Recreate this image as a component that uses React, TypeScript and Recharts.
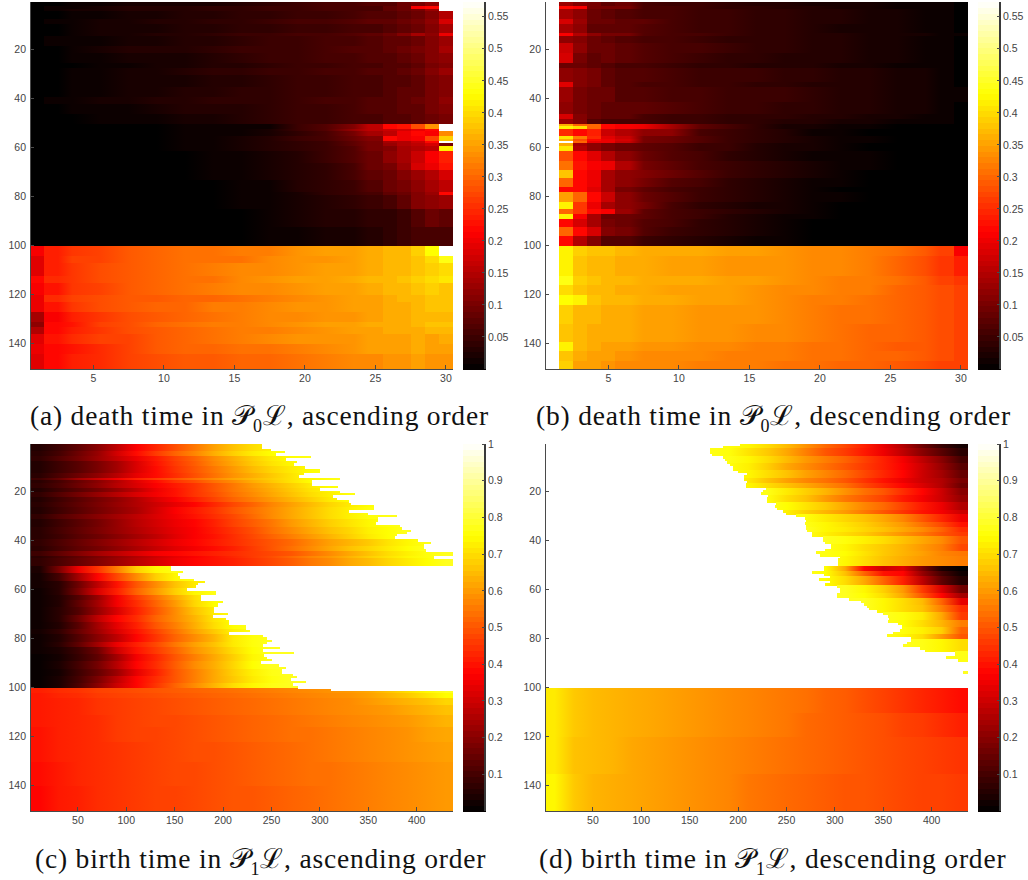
import React from 'react';
import { BarChart, Bar, Cell, XAxis, YAxis } from 'recharts';

// values are stored in hundredths, null = NaN (drawn white)
const rowTicks = [20, 40, 60, 80, 100, 120, 140];
const deathTicks = [5, 10, 15, 20, 25, 30];
const birthTicks = [50, 100, 150, 200, 250, 300, 350, 400];
const deathBarTicks = [0.05, 0.1, 0.15, 0.2, 0.25, 0.3, 0.35, 0.4, 0.45, 0.5, 0.55];
const birthBarTicks = [0.1, 0.2, 0.3, 0.4, 0.5, 0.6, 0.7, 0.8, 0.9, 1];
const colorLevels = [0,1,2,3,4,5,6,7,8,9,10,11,12,13,14,15,16,17,18,19,20,21,22,23,24,25,26,27,28,29,30,31,32,33,34,35,36,37,38,39,40,41,42,43,44,45,46,47,48,49,50,51,52,53,54,55,56,57,58,59,60,61,62,63];

const deathMax = 0.573;
const birthMax = 1;

const aColWidths = [1,1,2,2,2,2,2,2,2,2,2,2,2,1,1,1,1,1,1];
const aRowSpans = [2,1,1,3,2,4,1,4,3,4,2,3,5,4,3,4,4, 2,1,2,2,1,1,2,5,3,4,5,1,6,7,8, 4,3,5,3,5,3,4,4,2,3,4,4,6];
const aValues: (number | null)[][] = [
  [0,0,1,1,2,2,2,2,3,4,5,6,6,7,7,9,10,12,null],
  [0,1,1,2,3,3,3,4,4,5,5,6,6,6,8,9,21,22,null],
  [0,1,2,2,3,3,3,4,4,5,5,6,6,6,8,9,10,13,null],
  [0,0,1,1,2,2,3,3,4,4,5,5,6,7,7,8,9,11,15],
  [0,1,1,2,2,3,3,4,4,5,6,6,7,8,8,9,10,12,18],
  [0,0,1,2,2,2,3,3,4,4,5,5,6,6,7,8,9,11,14],
  [0,0,1,2,2,3,3,4,5,5,6,6,7,8,9,11,14,12,20],
  [0,1,1,1,2,2,3,3,4,5,5,6,6,7,8,8,9,11,13],
  [0,0,1,2,3,3,3,4,5,5,5,6,7,7,8,9,10,11,14],
  [0,0,1,1,2,2,2,3,4,5,5,6,6,7,7,8,9,11,12],
  [0,0,0,1,1,2,2,3,3,4,5,5,6,6,7,7,8,10,11],
  [0,0,1,1,2,2,3,4,4,5,5,6,6,7,7,8,9,11,13],
  [0,0,1,1,2,2,2,3,3,4,5,5,6,6,7,7,8,10,11],
  [0,0,1,1,2,2,3,3,4,4,5,5,6,6,7,8,8,10,11],
  [0,1,1,2,2,3,3,4,4,4,5,6,6,7,7,8,9,10,12],
  [0,0,1,1,1,2,3,3,3,4,5,5,6,7,7,8,8,10,11],
  [0,0,0,1,1,1,2,2,3,4,5,5,6,6,7,7,8,9,10],
  [0,0,0,0,0,0,1,1,1,1,5,7,11,16,22,23,28,34,null],
  [0,0,0,0,0,0,1,1,1,2,5,7,13,16,17,18,20,22,null],
  [0,0,0,0,0,0,1,1,1,2,4,6,10,14,16,20,22,21,33],
  [0,0,0,0,0,0,1,1,2,3,5,6,9,11,22,20,21,27,39],
  [0,0,0,0,0,0,1,1,2,3,4,5,8,10,14,15,17,22,null],
  [0,0,0,0,0,0,1,1,2,3,4,5,8,10,13,15,16,18,10],
  [0,0,0,0,0,0,1,1,2,3,4,5,7,10,11,14,15,16,42],
  [0,0,0,0,0,0,0,1,1,2,3,5,7,9,12,14,17,21,24],
  [0,0,0,0,0,0,0,1,1,2,3,4,6,9,10,13,18,20,23],
  [0,0,0,0,0,0,0,1,1,2,3,4,6,8,9,11,13,15,18],
  [0,0,0,0,0,0,0,0,1,1,3,4,5,7,9,10,12,14,16],
  [0,0,0,0,0,0,0,0,1,1,2,4,5,6,8,9,11,13,22],
  [0,0,0,0,0,0,0,0,1,1,2,3,4,5,6,8,11,12,13],
  [0,0,0,0,0,0,0,0,0,1,2,3,3,4,4,5,7,9,8],
  [0,0,0,0,0,0,0,0,0,1,1,2,2,3,4,5,6,6,6],
  [21,24,26,27,29,30,31,31,32,32,34,35,35,36,37,37,39,43,null],
  [19,24,27,27,29,30,31,31,31,33,34,34,35,36,37,37,38,40,44],
  [19,24,26,28,29,30,31,32,33,33,34,35,35,36,37,37,38,39,40],
  [22,25,26,28,29,30,31,31,33,34,35,35,36,37,37,38,39,40,41],
  [21,23,26,27,29,30,31,32,33,33,34,35,35,36,37,37,38,39,38],
  [20,25,27,28,29,29,30,30,31,32,33,34,35,35,36,37,37,38,38],
  [20,23,26,28,29,30,30,32,32,33,34,34,35,35,36,36,37,38,38],
  [14,21,24,26,28,29,30,31,32,33,33,34,34,35,36,36,37,37,37],
  [12,22,23,27,28,30,31,32,32,33,34,35,35,36,36,36,37,38,38],
  [15,22,24,26,28,29,30,31,32,32,33,34,35,35,36,36,36,37,37],
  [19,23,25,27,27,29,30,31,32,33,34,34,34,35,35,35,36,35,36],
  [20,22,23,25,27,29,30,30,31,31,32,33,34,35,35,35,36,35,35],
  [19,22,24,25,27,28,29,29,30,30,31,32,33,33,34,34,35,34,34],
];

const bColWidths = [1,1,1,1,1,1,2,2,2,2,2,2,2,2,2,2,2,1,1];
const bRowSpans = [2,1,4,2,4,1,3,4,4,2,6,2,6,5,2,2, 1,1,3,1,1,1,1,2,4,4,3,4,2,4,3,2,2,3,4,4, 4,8,4,4,4,8,7,4,4,3];
const bValues: (number | null)[][] = [
  [null,13,11,10,8,9,6,5,5,4,3,3,2,2,2,1,1,1,0],
  [null,22,21,10,10,10,6,6,5,4,4,3,3,2,2,1,1,1,0],
  [null,14,12,9,8,7,6,6,5,5,4,4,3,3,2,2,1,1,0],
  [null,18,13,9,9,8,8,6,5,5,4,4,3,3,2,2,1,1,0],
  [null,14,12,8,8,8,7,6,5,5,4,4,3,2,2,2,1,1,0],
  [null,21,15,12,10,10,7,6,6,5,4,4,3,3,2,2,2,1,1],
  [null,12,11,9,8,7,6,6,5,4,4,4,3,3,2,2,1,1,0],
  [null,17,12,9,9,8,7,6,6,5,4,4,3,3,2,2,1,1,0],
  [null,18,10,8,9,8,7,6,5,4,4,3,3,3,2,2,1,1,0],
  [null,9,9,8,7,6,6,5,4,4,3,3,3,2,2,1,1,1,0],
  [null,12,11,10,8,7,7,6,5,5,5,4,4,3,3,2,2,1,0],
  [null,19,11,10,8,7,6,6,5,5,4,4,3,3,3,2,2,1,0],
  [null,13,10,9,9,7,7,6,6,5,5,5,4,3,3,2,2,1,1],
  [null,12,10,9,8,8,8,7,6,5,5,4,4,3,3,2,2,1,0],
  [null,18,11,9,8,8,6,5,5,4,4,4,3,3,2,2,1,1,0],
  [null,13,11,7,6,6,6,5,5,4,4,3,3,2,2,1,1,1,0],
  [null,36,30,30,22,21,20,14,8,6,4,2,2,1,1,0,0,0,0],
  [null,42,40,30,22,21,20,14,8,6,4,2,2,1,1,0,0,0,0],
  [null,25,22,24,17,15,12,12,6,5,4,3,1,1,0,0,0,0,0],
  [null,41,32,25,19,17,10,9,7,5,4,3,2,1,1,0,0,0,0],
  [null,36,28,22,20,18,10,9,7,5,4,3,2,1,1,0,0,0,0],
  [null,null,30,20,20,17,10,9,7,5,4,3,2,1,1,0,0,0,0],
  [null,36,14,12,10,9,8,7,5,5,3,2,2,1,0,0,0,0,0],
  [null,41,15,12,10,9,8,7,5,5,3,2,2,1,0,0,0,0,0],
  [null,28,22,19,15,12,9,7,6,4,3,2,1,1,1,0,0,0,0],
  [null,31,23,21,20,15,10,8,6,5,4,3,2,1,1,0,0,0,0],
  [null,38,22,20,14,12,11,9,7,5,4,3,2,1,0,0,0,0,0],
  [null,30,22,20,14,12,10,7,6,4,3,2,1,1,0,0,0,0,0],
  [null,22,22,19,14,10,8,6,5,4,3,2,1,0,0,0,0,0,0],
  [null,35,30,22,17,12,9,7,5,4,3,2,1,1,0,0,0,0,0],
  [null,42,26,20,14,12,10,6,4,3,2,2,1,0,0,0,0,0,0],
  [null,30,26,22,21,13,8,6,5,4,3,2,1,0,0,0,0,0,0],
  [null,42,21,14,9,9,8,6,5,3,2,1,1,0,0,0,0,0,0],
  [null,22,18,14,10,9,7,6,4,3,2,1,0,0,0,0,0,0,0],
  [null,30,22,18,11,10,7,5,4,3,2,1,0,0,0,0,0,0,0],
  [null,22,15,11,7,7,5,4,3,2,1,1,0,0,0,0,0,0,0],
  [null,42,39,38,38,37,36,36,36,35,35,34,33,33,32,31,29,27,21],
  [null,42,38,37,37,36,36,35,35,34,34,34,33,33,32,30,28,26,24],
  [null,44,39,38,37,37,36,36,36,35,35,34,33,32,32,31,29,27,26],
  [null,40,38,37,37,36,36,35,35,35,34,33,33,32,32,30,29,28,27],
  [null,43,42,38,37,37,36,36,35,35,34,33,32,32,31,30,29,28,27],
  [null,39,37,37,36,36,35,35,34,34,34,33,32,31,31,30,29,28,27],
  [null,38,37,36,36,36,35,35,34,34,33,33,32,31,30,30,29,28,27],
  [null,42,37,36,35,35,34,34,33,33,32,32,31,31,30,29,29,28,27],
  [null,38,36,35,35,34,33,33,33,32,32,32,31,31,30,30,29,28,27],
  [null,39,35,35,34,33,33,33,32,32,32,31,31,30,30,29,28,27,27],
];

// birth panels: a value is read every 20 columns, one edge per row for the white part
const cEdges = [240,240,250,264,255,291,265,276,273,285,300,300,284,278,321,292,292,319,300,321,336,314,318,330,332,356,356,330,350,380,360,360,358,383,385,394,390,380,378,401,415,408,408,410,437,437,418,437,437,437,
  146,146,159,153,155,170,181,174,172,163,193,193,177,177,200,195,195,191,191,205,190,203,206,206,224,224,228,206,241,245,251,245,241,259,241,273,242,245,251,239,258,265,261,261,272,276,270,286,272,277,311];
const cRowSpans = [3,2,2,2,3,2,1,1,2,2,2,2,2,3,2,3,3,2,3,2,2,1,3, 3,3,3,3,2,3,3,3,3,2,3,2,3,3,3,3,3,2, 2,2,3,4,5,6,8,10,10];
const cValues = [
  [5,9,14,20,28,37,43,49,55,61,66,70,73,76],
  [6,10,16,22,31,39,46,52,57,63,68,72,75,77],
  [7,12,17,23,29,35,41,47,52,58,63,68,72,75,77],
  [5,9,13,18,24,32,40,46,51,57,62,67,71,74,77],
  [5,9,13,18,24,32,39,45,50,55,60,65,69,72,75,77],
  [6,11,16,21,27,34,39,44,49,54,59,63,67,71,75,77],
  [9,15,24,30,36,42,46,50,54,58,62,65,68,71,74,76,78],
  [6,10,15,20,26,33,39,45,49,54,58,63,67,71,75,77],
  [7,11,16,21,27,32,37,41,45,50,55,60,64,68,72,75,78],
  [5,9,13,17,22,28,35,40,45,50,55,59,63,67,71,74,77],
  [7,12,17,22,27,32,36,40,45,49,54,58,62,66,70,73,76,78],
  [5,9,13,17,21,26,32,37,42,47,52,56,60,64,68,72,75,78],
  [6,10,14,18,22,26,30,34,38,43,48,52,57,61,65,69,72,75,78],
  [5,9,13,17,21,25,31,37,41,45,50,54,58,62,66,70,73,76,78],
  [7,12,16,20,24,28,32,36,40,44,48,53,58,62,66,70,73,76,77,78],
  [5,9,13,17,22,27,31,35,38,42,47,51,55,60,64,68,71,74,76,78],
  [6,10,14,18,22,26,30,34,37,41,45,49,54,58,62,66,69,73,75,78],
  [6,9,13,16,20,24,28,33,37,40,44,48,52,56,60,64,68,72,75,78],
  [7,11,15,19,23,27,31,35,38,41,44,47,50,53,57,61,64,67,71,74,77],
  [6,10,14,17,21,25,29,33,36,39,42,46,50,54,58,62,66,69,72,75,78],
  [9,14,19,24,28,32,36,38,40,42,44,46,48,50,54,58,62,66,70,73,76,78],
  [6,10,14,18,22,26,30,34,37,40,43,46,49,53,57,60,64,68,71,74,76,78],
  [7,11,15,19,23,27,31,35,38,40,42,45,48,51,55,58,62,65,69,72,75,78],
  [4,18,35,45,56,68,74,77],
  [3,10,24,38,48,58,68,74,77],
  [3,6,16,28,40,50,58,66,72,76,78],
  [2,6,18,32,42,52,60,68,74,77],
  [2,5,12,22,36,46,54,62,70,75,77],
  [2,5,14,24,36,44,52,60,69,75,78],
  [2,6,12,22,32,42,50,58,66,72,76,78],
  [2,6,16,28,38,44,52,58,64,71,75,78],
  [2,5,13,24,34,42,50,56,63,70,75,78],
  [3,7,15,23,32,40,47,54,61,67,73,77],
  [2,5,12,20,28,38,45,52,58,64,72,76,78],
  [2,6,14,24,35,42,48,55,61,66,72,76,78],
  [2,4,9,16,30,40,46,52,59,64,70,75,78],
  [1,3,8,14,24,36,43,50,56,62,68,74,77,78],
  [1,4,10,17,27,38,44,51,58,63,69,75,78],
  [1,3,9,15,23,34,42,50,56,62,68,73,77,78],
  [1,4,10,18,28,38,44,50,56,62,67,72,76,78],
  [1,4,11,20,30,38,45,52,58,64,70,74,77,78],
  [42,44,45,47,48,49,50,51,52,53,54,55,56,57,58,59,60,62,66,70,74,78],
  [41,43,44,46,47,48,49,50,51,52,53,54,55,56,57,58,59,61,64,67,71,75],
  [41,42,43,45,46,47,48,49,50,51,52,53,54,55,56,57,58,60,62,64,66,69],
  [41,42,43,45,46,47,48,49,50,51,52,53,54,55,56,57,58,59,60,62,64,66],
  [41,42,43,44,46,47,48,48,49,50,51,52,53,54,55,56,57,58,59,60,62,64],
  [40,42,43,44,46,47,47,48,49,50,51,52,53,54,54,55,56,57,58,59,61,62],
  [40,42,43,44,45,46,47,48,49,49,50,51,52,53,54,55,56,57,58,59,60,61],
  [39,41,43,44,45,46,47,48,48,49,50,51,52,53,54,54,55,56,57,58,59,60],
  [38,41,42,44,45,46,47,47,48,49,50,50,51,52,53,54,55,56,57,58,59,60],
];

const dStarts = [202,184,171,171,173,184,186,189,192,195,195,200,209,206,206,209,208,208,229,226,224,231,230,230,239,238,240,246,249,260,269,270,269,270,270,271,276,276,288,288,290,296,296,290,280,285,305,303,303,303,
  289,289,276,289,295,284,295,290,302,305,305,302,302,315,327,330,333,335,343,350,355,356,355,365,369,369,367,360,354,379,379,375,370,388,393,424,424,415,427,437,437,437,437,432,437,437,437,437,437,437];
const dRowSpans = [2,3,3,3,3,2,2,3,3,3,2,3,2,2,2,3,3,2,4, 2,2,4,3,2,3,3,3,3,3,2,5,4,11, 10,10,15,15];
// right aligned: the last number belongs to the last columns of the row
const dValues = [
  [78,76,74,70,65,59,53,48,42,34,26,16,8,3],
  [77,76,71,67,62,56,50,46,41,35,28,20,13,6],
  [77,74,70,65,60,56,52,47,42,36,28,20,10],
  [76,73,68,62,58,54,50,46,42,37,30,22,13],
  [77,74,70,66,61,57,53,48,43,38,30,24,15],
  [76,72,66,61,57,54,50,45,40,35,30,26,18],
  [77,74,70,66,62,58,54,48,43,38,32,26,16],
  [77,72,68,64,59,54,50,44,38,30,20],
  [76,70,66,60,55,51,47,41,36,30,22],
  [78,75,71,67,62,57,53,47,41,35,26],
  [77,73,68,64,60,55,50,45,40,36,30],
  [76,72,69,66,62,57,50,43,35],
  [77,74,71,68,64,60,54,48,40],
  [78,74,72,69,66,62,58,52,44],
  [77,73,70,67,63,59,55,50,46],
  [78,76,73,70,66,62,58,50],
  [77,74,70,67,64,60,56,48],
  [77,75,71,67,64,61,57,55],
  [78,74,70,66,63,60,58,56],
  [78,75,62,38,30,33,18,4,0],
  [78,75,66,52,40,38,22,10,2],
  [78,75,70,62,52,42,28,14,5],
  [78,74,68,60,46,32,16],
  [78,75,70,62,50,38,24],
  [78,74,70,65,52,34],
  [78,74,70,66,56,44],
  [78,76,72,62,46],
  [78,75,70,64,56],
  [78,76,73,68,52],
  [78,74,70,60,50],
  [78,77,74,70],
  [78,77],
  [78],
  [72,67,65,64,63,62,61,60,59,58,57,56,55,54,52,51,49,47,45,43,41,39],
  [72,67,65,64,63,62,61,60,59,58,57,56,55,53,52,51,50,49,47,46,44,42],
  [72,66,65,64,62,61,60,59,58,57,56,55,54,53,52,51,50,49,48,47,46,45],
  [74,67,64,63,62,61,60,59,58,57,55,54,53,52,51,50,50,49,48,47,47,46],
];

const WHITE = '#ffffff';
const AXIS = '#4a4a4a';
const TEXT = '#444444';
const tickFont = { fontSize: 10.5, fill: TEXT, fontFamily: '"Liberation Sans", sans-serif' };
const BLOCK = 20;
const BLOCKS = 22;
const birthWidth = 437;
const deathWidth = 30;
const plotLeft = 30;
const plotRight = 453;

const clamp = (v: number) => Math.max(0, Math.min(1, v));
const hot = (t: number) => {
  const q = clamp(t);
  const r = clamp(q / 0.375);
  const g = clamp((q - 0.375) / 0.375);
  const b = clamp((q - 0.75) / 0.25);
  return `rgb(${Math.round(r * 255)},${Math.round(g * 255)},${Math.round(b * 255)})`;
};
const colorOf = (v: number | null, max: number) => (v === null ? WHITE : hot(v / 100 / max));

type Row = Record<string, number | string>;

const deathRows = (prefix: string, spans: number[]) => {
  const rows: Row[] = [];
  spans.forEach((span, b) => {
    for (let k = 0; k < span; k++) {
      rows.push({ row: rows.length + 1, s0: deathWidth, f0: `url(#${prefix}${b})` });
    }
  });
  return rows;
};

const ascendingRows = () => {
  const rows: Row[] = [];
  cRowSpans.forEach((span, b) => {
    for (let k = 0; k < span; k++) {
      const edge = rows.length < cEdges.length ? cEdges[rows.length] : birthWidth;
      rows.push({ row: rows.length + 1, s0: edge, f0: `url(#c${b})`, s1: birthWidth - edge, f1: WHITE });
    }
  });
  return rows;
};

const descendingRows = () => {
  const rows: Row[] = [];
  dRowSpans.forEach((span, b) => {
    for (let k = 0; k < span; k++) {
      const start = rows.length < dStarts.length ? dStarts[rows.length] : 0;
      rows.push({ row: rows.length + 1, s0: start, f0: WHITE, s1: birthWidth - start, f1: `url(#d${b})` });
    }
  });
  return rows;
};

const aRows = deathRows('a', aRowSpans);
const bRows = deathRows('b', bRowSpans);
const cRows = ascendingRows();
const dRows = descendingRows();

const bandGradient = (id: string, stops: { at: number; color: string }[]) => (
  <linearGradient key={id} id={id} gradientUnits="userSpaceOnUse" x1={plotLeft} x2={plotRight} y1={0} y2={0}>
    {stops.map((s, i) => (
      <stop key={i} offset={Math.min(1, s.at)} stopColor={s.color} />
    ))}
  </linearGradient>
);

// single columns keep their hard edges, wider groups get one stop in the middle
const deathGradients = (prefix: string, values: (number | null)[][], widths: number[]) =>
  values.map((vals, b) => {
    const stops: { at: number; color: string }[] = [];
    let pos = 0;
    widths.forEach((w, i) => {
      const color = colorOf(vals[i], deathMax);
      if (w === 1) {
        stops.push({ at: pos / deathWidth, color }, { at: (pos + 1) / deathWidth, color });
      } else {
        stops.push({ at: (pos + w / 2) / deathWidth, color });
      }
      pos += w;
    });
    return bandGradient(`${prefix}${b}`, stops);
  });

// birth panels: stops at the middle of each block of 20 columns
const birthGradients = (prefix: string, values: number[][], rightAligned: boolean) =>
  values.map((vals, b) => {
    const first = rightAligned ? BLOCKS - vals.length : 0;
    return bandGradient(
      `${prefix}${b}`,
      vals.map((v, i) => ({ at: ((first + i) * BLOCK + BLOCK / 2) / birthWidth, color: colorOf(v, birthMax) })),
    );
  });

interface HeatProps {
  rows: Row[];
  count: number;
  xMax: number;
  xTicks: number[];
  left: number;
  top: number;
  gradients: React.ReactNode;
}

function Heat({ rows, count, xMax, xTicks, left, top, gradients }: HeatProps) {
  const ticks = xTicks.map((t) => t - 0.5);
  const axisLine = { stroke: AXIS, strokeWidth: 1 };
  const tickLine = { stroke: AXIS };
  return (
    <div style={{ position: 'absolute', left, top }}>
      <BarChart layout="vertical" width={460} height={400} data={rows} barCategoryGap={0} barGap={0}
        margin={{ top: 2, right: 7, bottom: 0, left: 0 }}>
        <defs>{gradients}</defs>
        {Array.from({ length: count }, (_, i) => (
          <Bar key={i} dataKey={`s${i}`} stackId="heat" isAnimationActive={false}>
            {rows.map((r, j) => (
              <Cell key={j} fill={r[`f${i}`] as string} stroke={r[`f${i}`] as string} strokeWidth={1} />
            ))}
          </Bar>
        ))}
        <XAxis type="number" domain={[0, xMax]} allowDataOverflow ticks={ticks} height={31} interval={0}
          tickFormatter={(t: number) => String(t + 0.5)} tick={tickFont} axisLine={axisLine} tickLine={tickLine}
          tickSize={-4} tickMargin={10} />
        <XAxis xAxisId="top" orientation="top" type="number" domain={[0, xMax]} ticks={ticks} height={0} interval={0}
          tickFormatter={() => ''} axisLine={axisLine} tickLine={tickLine} tickSize={-4} />
        <YAxis type="category" dataKey="row" width={30} ticks={rowTicks} interval={0} tick={tickFont}
          axisLine={axisLine} tickLine={tickLine} tickSize={-4} tickMargin={8} />
        <YAxis yAxisId="right" orientation="right" type="category" dataKey="row" width={0} ticks={rowTicks} interval={0}
          tickFormatter={() => ''} axisLine={axisLine} tickLine={tickLine} tickSize={-4} />
      </BarChart>
    </div>
  );
}

function ColorBar({ max, ticks, left, top }: { max: number; ticks: number[]; left: number; top: number }) {
  const datum: Row = { name: 'bar' };
  colorLevels.forEach((l) => {
    datum[`l${l}`] = max / colorLevels.length;
  });
  const axisLine = { stroke: '#3a3a3a', strokeWidth: 1.5 };
  return (
    <div style={{ position: 'absolute', left, top: top - 8 }}>
      <BarChart width={60} height={408} data={[datum]} barCategoryGap={0}
        margin={{ top: 10, right: 0, bottom: 31, left: 3 }}>
        {colorLevels.map((l) => (
          <Bar key={l} yAxisId="bar" dataKey={`l${l}`} stackId="scale" fill={hot((l + 0.5) / colorLevels.length)} stroke={hot((l + 0.5) / colorLevels.length)} isAnimationActive={false} />
        ))}
        <XAxis dataKey="name" tick={false} axisLine={axisLine} tickLine={false} height={0} />
        <XAxis xAxisId="top" orientation="top" dataKey="name" tick={false} axisLine={axisLine} tickLine={false} height={0} />
        <YAxis yAxisId="left" width={0} type="number" domain={[0, max]} tick={false} axisLine={axisLine} tickLine={false} />
        <YAxis yAxisId="bar" orientation="right" width={35} type="number" domain={[0, max]} ticks={ticks} interval={0}
          tickFormatter={(t: number) => String(t)} tick={tickFont} axisLine={axisLine} tickLine={{ stroke: AXIS }}
          tickSize={-3} tickMargin={6} />
      </BarChart>
    </div>
  );
}

function Caption({ left, top, label, sub, rest }: { left: number; top: number; label: string; sub: string; rest: string }) {
  return (
    <div style={{ position: 'absolute', left, top, fontFamily: '"Liberation Serif", serif', fontSize: 27.5, letterSpacing: 0.8, color: '#111', whiteSpace: 'nowrap', lineHeight: '28px', shapeRendering: 'auto' }}>
      {label} 𝒫<sub style={{ fontSize: 18, lineHeight: 0 }}>{sub}</sub>ℒ, {rest}
    </div>
  );
}

export default function App() {
  return (
    <div style={{ position: 'absolute', left: 0, top: 0, width: 1028, height: 880, background: '#fff', overflow: 'hidden', shapeRendering: 'crispEdges' }}>
      <Heat rows={aRows} count={1} xMax={deathWidth} xTicks={deathTicks} left={0} top={0} gradients={deathGradients('a', aValues, aColWidths)} />
      <ColorBar max={deathMax} ticks={deathBarTicks} left={460} top={0} />
      <Heat rows={bRows} count={1} xMax={deathWidth} xTicks={deathTicks} left={515} top={0} gradients={deathGradients('b', bValues, bColWidths)} />
      <ColorBar max={deathMax} ticks={deathBarTicks} left={975} top={0} />
      <Heat rows={cRows} count={2} xMax={birthWidth} xTicks={birthTicks} left={0} top={442} gradients={birthGradients('c', cValues, false)} />
      <ColorBar max={birthMax} ticks={birthBarTicks} left={460} top={442} />
      <Heat rows={dRows} count={2} xMax={birthWidth} xTicks={birthTicks} left={515} top={442} gradients={birthGradients('d', dValues, true)} />
      <ColorBar max={birthMax} ticks={birthBarTicks} left={975} top={442} />
      <Caption left={30} top={402} label="(a) death time in" sub="0" rest="ascending order" />
      <Caption left={536} top={402} label="(b) death time in" sub="0" rest="descending order" />
      <Caption left={35} top={845} label="(c) birth time in" sub="1" rest="ascending order" />
      <Caption left={539} top={845} label="(d) birth time in" sub="1" rest="descending order" />
    </div>
  );
}
